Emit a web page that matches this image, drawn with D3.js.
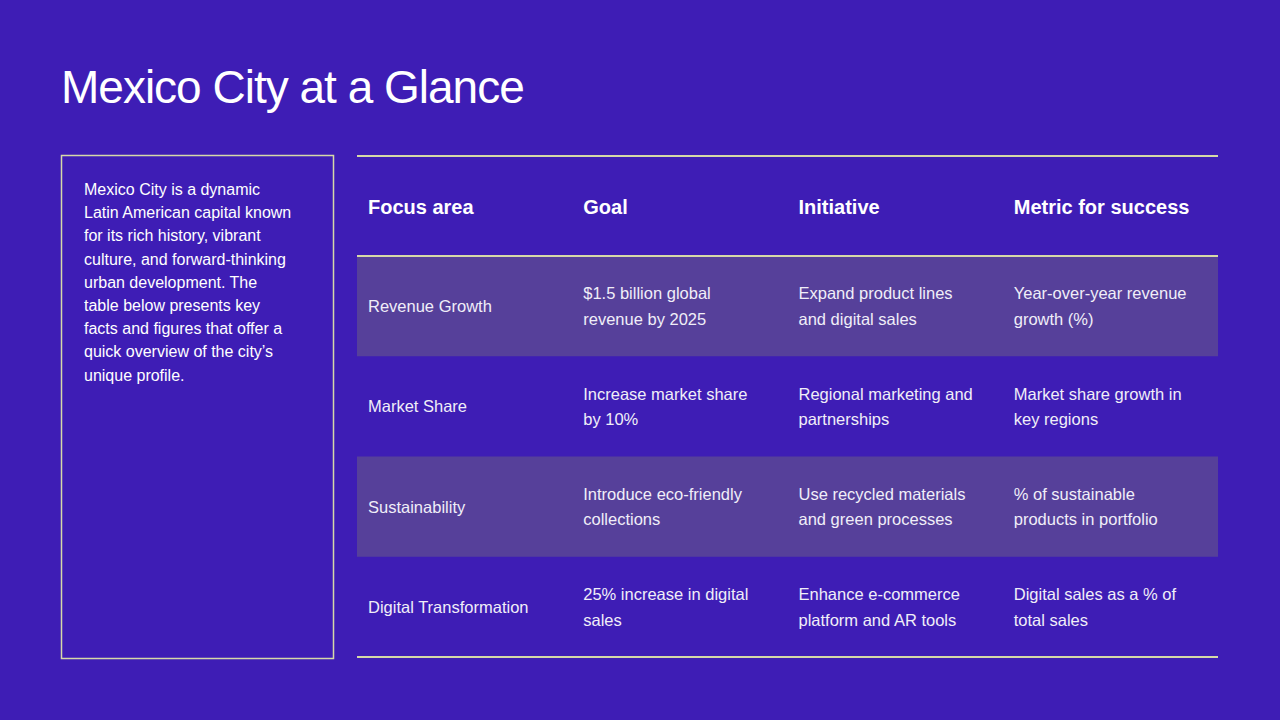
<!DOCTYPE html><html><head><meta charset="utf-8"><script src="https://cdn.jsdelivr.net/npm/d3@7"></script>
<style>body{margin:0;background:#3e1db5}</style></head><body><svg id="c" width="1280" height="720"></svg>
<script>
const title="Mexico City at a Glance";
const introLines=["Mexico City is a dynamic","Latin American capital known","for its rich history, vibrant","culture, and forward-thinking","urban development. The","table below presents key","facts and figures that offer a","quick overview of the city’s","unique profile."];
const headers=["Focus area","Goal","Initiative","Metric for success"];
const focusAreas=["Revenue Growth","Market Share","Sustainability","Digital Transformation"];
const goals=[["$1.5 billion global","revenue by 2025"],["Increase market share","by 10%"],["Introduce eco-friendly","collections"],["25% increase in digital","sales"]];
const initiatives=[["Expand product lines","and digital sales"],["Regional marketing and","partnerships"],["Use recycled materials","and green processes"],["Enhance e-commerce","platform and AR tools"]];
const metrics=[["Year-over-year revenue","growth (%)"],["Market share growth in","key regions"],["% of sustainable","products in portfolio"],["Digital sales as a % of","total sales"]];

const svg=d3.select("#c"),F="Liberation Sans, Arial, sans-serif",line="#d6d9a8";
svg.append("rect").attr("width",1280).attr("height",720).attr("fill","#3e1db5");
svg.append("text").attr("x",61).attr("y",103).attr("font-family",F).attr("font-size",46).attr("fill","#fff").attr("letter-spacing",-1).text(title);
svg.append("rect").attr("x",61.5).attr("y",155.5).attr("width",272).attr("height",503).attr("fill","none").attr("stroke",line).attr("stroke-width",1.5);
const it=svg.append("text").attr("font-family",F).attr("font-size",16).attr("fill","#fff");
introLines.forEach((l,i)=>it.append("tspan").attr("x",84).attr("y",195+i*23.2).text(l));

const x=d3.scaleBand().domain(d3.range(4)).range([357,1218]);
const y=d3.scaleLinear().domain([0,4]).range([256,657]);
const rows=focusAreas.map((f,i)=>[[f],goals[i],initiatives[i],metrics[i]]);
rows.forEach((r,i)=>{
  if(i%2===0) svg.append("rect").attr("x",357).attr("y",y(i)).attr("width",861).attr("height",y(i+1)-y(i)).attr("fill","#56409a");
  const cy=(y(i)+y(i+1))/2;
  r.forEach((cell,j)=>{
    const t=svg.append("text").attr("font-family",F).attr("font-size",16.5).attr("fill","#f0eef8");
    cell.forEach((l,k)=>t.append("tspan").attr("x",x(j)+11).attr("y",cy+6+(k-(cell.length-1)/2)*25.5).text(l));
  });
});
headers.forEach((h,j)=>svg.append("text").attr("x",x(j)+11).attr("y",214).attr("font-family",F).attr("font-size",20).attr("font-weight","bold").attr("fill","#fff").text(h));
[156,256,657].forEach(v=>svg.append("line").attr("x1",357).attr("x2",1218).attr("y1",v).attr("y2",v).attr("stroke",line).attr("stroke-width",2));
</script></body></html>
